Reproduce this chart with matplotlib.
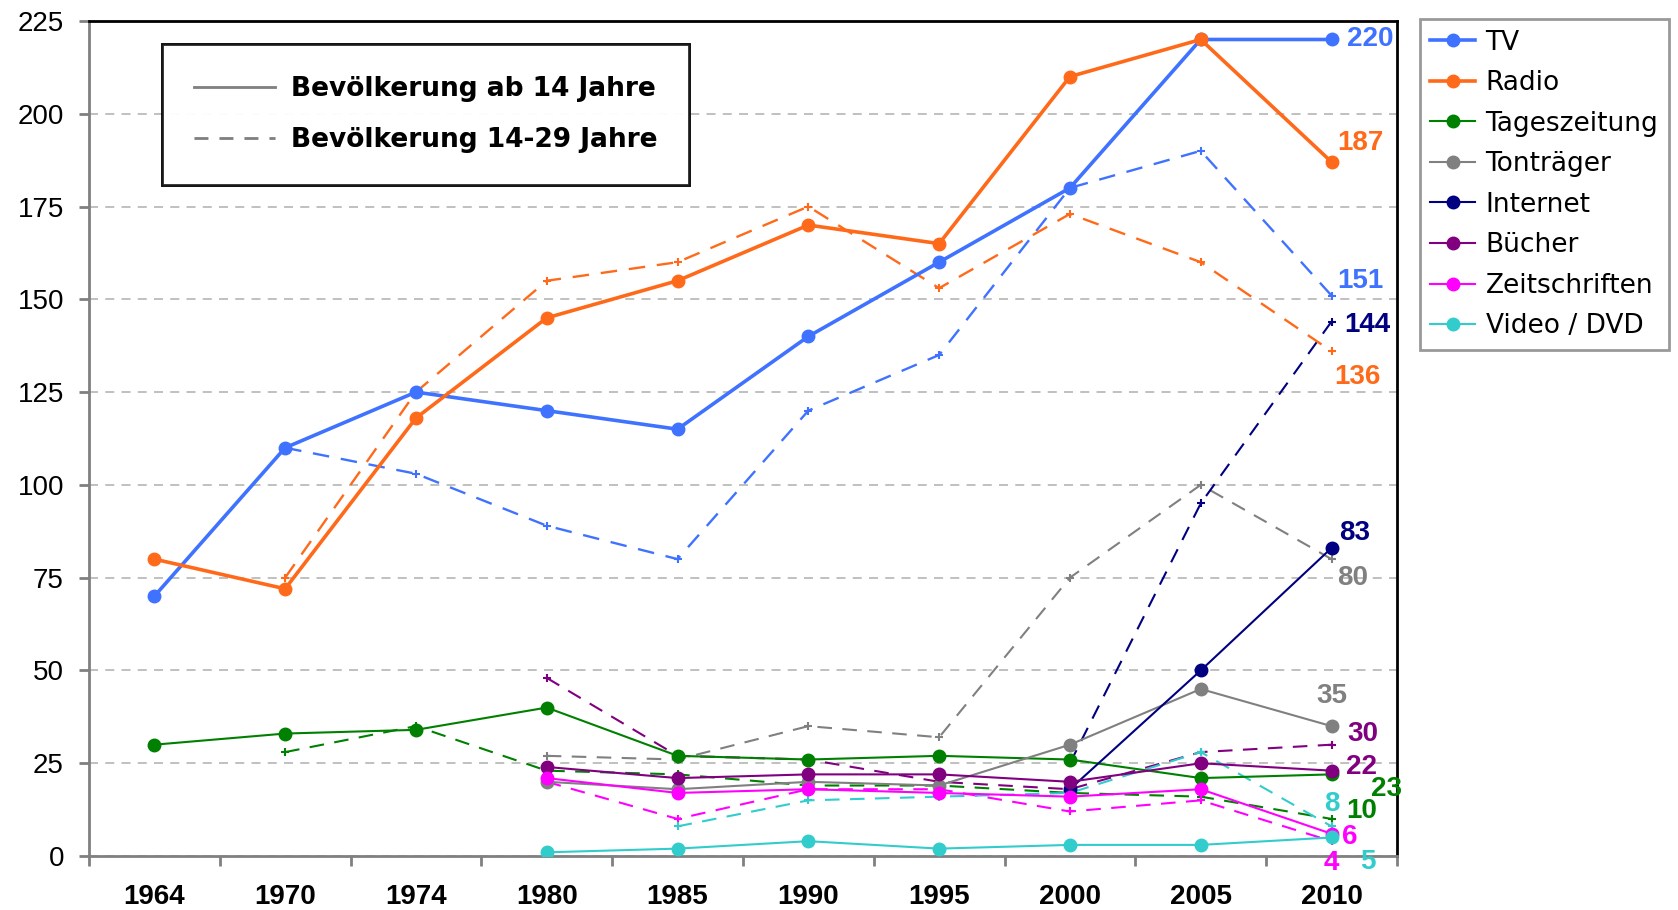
import numpy as np
import matplotlib
matplotlib.use('Agg')
import matplotlib.pyplot as plt
from matplotlib.lines import Line2D

# categories (equally spaced on the x axis)
years = ['1964', '1970', '1974', '1980', '1985', '1990', '1995', '2000', '2005', '2010']
nan = np.nan

# Bevölkerung ab 14 Jahre (solid)
tv_all = [70, 110, 125, 120, 115, 140, 160, 180, 220, 220]
radio_all = [80, 72, 118, 145, 155, 170, 165, 210, 220, 187]
zeitung_all = [30, 33, 34, 40, 27, 26, 27, 26, 21, 22]
tontraeger_all = [nan, nan, nan, 20, 18, 20, 19, 30, 45, 35]
internet_all = [nan, nan, nan, nan, nan, nan, nan, 18, 50, 83]
buecher_all = [nan, nan, nan, 24, 21, 22, 22, 20, 25, 23]
zeitschr_all = [nan, nan, nan, 21, 17, 18, 17, 16, 18, 6]
video_all = [nan, nan, nan, 1, 2, 4, 2, 3, 3, 5]

# Bevölkerung 14-29 Jahre (dashed)
tv_young = [nan, 110, 103, 89, 80, 120, 135, 180, 190, 151]
radio_young = [nan, 75, 125, 155, 160, 175, 153, 173, 160, 136]
zeitung_young = [nan, 28, 35, 23, 22, 19, 19, 17, 16, 10]
tontraeger_young = [nan, nan, nan, 27, 26, 35, 32, 75, 100, 80]
internet_young = [nan, nan, nan, nan, nan, nan, nan, 25, 95, 144]
buecher_young = [nan, nan, nan, 48, 27, 26, 20, 18, 28, 30]
zeitschr_young = [nan, nan, nan, 20, 10, 18, 18, 12, 15, 4]
video_young = [nan, nan, nan, nan, 8, 15, 16, 17, 28, 8]

names = ['TV', 'Radio', 'Tageszeitung', 'Tonträger', 'Internet', 'Bücher',
         'Zeitschriften', 'Video / DVD']
colors = ['#3F72FF', '#FF6A1A', '#008000', '#808080', '#000080', '#800080',
          '#FF00FF', '#33CCCC']
all_series = [tv_all, radio_all, zeitung_all, tontraeger_all, internet_all,
              buecher_all, zeitschr_all, video_all]
young_series = [tv_young, radio_young, zeitung_young, tontraeger_young,
                internet_young, buecher_young, zeitschr_young, video_young]

# end labels at 2010: (text, colour, x offset, y position)
end_labels = [('220', '#3F72FF', 0.12, 220), ('187', '#FF6A1A', 0.04, 192),
              ('151', '#3F72FF', 0.04, 155), ('144', '#000080', 0.10, 143),
              ('136', '#FF6A1A', 0.02, 129), ('83', '#000080', 0.06, 87),
              ('80', '#808080', 0.04, 75), ('35', '#808080', 0.00, 43),
              ('30', '#800080', 0.12, 33), ('22', '#800080', 0.11, 24),
              ('23', '#008000', 0.30, 18), ('8', '#33CCCC', 0.00, 14),
              ('10', '#008000', 0.11, 12), ('6', '#FF00FF', 0.08, 5),
              ('4', '#FF00FF', 0.00, -2), ('5', '#33CCCC', 0.22, -1.5)]

x = np.arange(len(years))

fig = plt.figure(figsize=(16.78, 9.10), dpi=100)
ax = fig.add_axes([0.053, 0.0593, 0.7795, 0.9177])

for i, (name, c) in enumerate(zip(names, colors)):
    lw = 2.6 if i < 2 else 1.5
    z = 5 if i < 2 else 3
    ax.plot(x, young_series[i], color=c, lw=1.7 if i < 2 else 1.5,
            ls=(0, (7, 5)), marker='+', markersize=6, markeredgewidth=1.5,
            zorder=z)
    ax.plot(x, all_series[i], color=c, lw=lw, marker='o', markersize=9,
            zorder=z + 1, label=name)

for txt, c, dx, yv in end_labels:
    ax.text(9 + dx, yv, txt, color=c, fontsize=20, fontweight='bold',
            family='Liberation Sans',
            ha='left' if dx > 0 else 'center', va='center', zorder=10)

ax.set_xlim(-0.5, 9.5)
ax.set_ylim(0, 225)
ax.set_yticks(np.arange(0, 226, 25))
ax.set_yticklabels([str(v) for v in range(0, 226, 25)], fontsize=20,
                   family='Liberation Sans')
ax.set_xticks(x)
ax.set_xticklabels(years, fontsize=20, fontweight='bold', family='Liberation Sans')
ax.set_xticks(np.arange(-0.5, 9.6, 1), minor=True)
ax.tick_params(axis='x', which='major', length=0, pad=20)
ax.tick_params(axis='x', which='minor', length=7, width=2, color='#808080')
ax.tick_params(axis='y', length=7, width=2, color='#808080', pad=11)
ax.yaxis.grid(True, color='#BBBBBB', ls=(0, (5, 4)), lw=1.3)
ax.set_axisbelow(True)

for s in ['left', 'bottom']:
    ax.spines[s].set_color('#808080')
    ax.spines[s].set_linewidth(2)
for s in ['top', 'right']:
    ax.spines[s].set_color('black')
    ax.spines[s].set_linewidth(2)

# line style legend inside the plot
style_handles = [Line2D([], [], color='#808080', lw=2),
                 Line2D([], [], color='#808080', lw=2, ls=(0, (5, 4)))]
leg1 = ax.legend(style_handles, ['Bevölkerung ab 14 Jahre', 'Bevölkerung 14-29 Jahre'],
                 loc='upper left', bbox_to_anchor=(0.0558, 0.972), borderaxespad=0,
                 frameon=True, fancybox=False, edgecolor='black', borderpad=1.2,
                 labelspacing=0.95, handlelength=3.1, handletextpad=0.6,
                 prop={'size': 19, 'weight': 'bold'})
leg1.get_frame().set_linewidth(2)
ax.add_artist(leg1)

# series legend outside on the right
handles, labels = ax.get_legend_handles_labels()
leg2 = fig.legend(handles, labels, loc='upper left', bbox_to_anchor=(0.846, 0.979),
                  borderaxespad=0, frameon=True, fancybox=False,
                  edgecolor='#808080', fontsize=19, labelspacing=0.55,
                  handlelength=1.7, handletextpad=0.4, borderpad=0.4)
leg2.get_frame().set_linewidth(2)

fig.savefig('out.png', dpi=100)
